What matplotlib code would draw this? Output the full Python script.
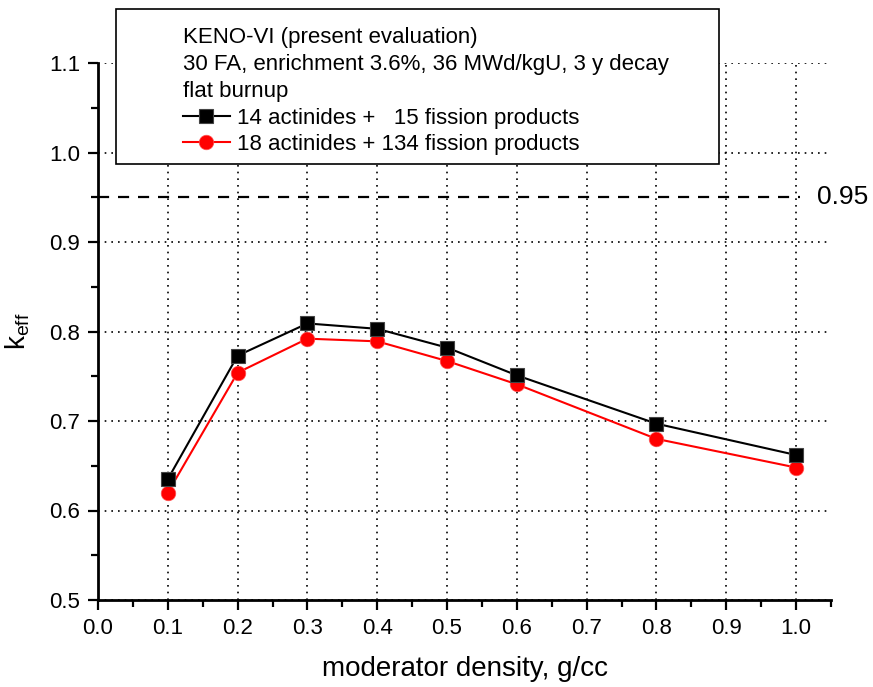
import matplotlib
matplotlib.use("Agg")
import matplotlib.pyplot as plt
from matplotlib.patches import Rectangle
from matplotlib.ticker import MultipleLocator

plt.rcParams['font.family'] = ['Liberation Sans', 'DejaVu Sans']
plt.rcParams['mathtext.fontset'] = 'custom'
plt.rcParams['mathtext.rm'] = 'Liberation Sans'
plt.rcParams['mathtext.it'] = 'Liberation Sans'

density = [0.1, 0.2, 0.3, 0.4, 0.5, 0.6, 0.8, 1.0]
keff_15fp = [0.635, 0.773, 0.809, 0.803, 0.782, 0.751, 0.697, 0.662]
keff_134fp = [0.620, 0.754, 0.792, 0.789, 0.767, 0.741, 0.680, 0.648]
limit = 0.95

fig = plt.figure(figsize=(8.73, 6.87), dpi=100)
ax = fig.add_axes([98/873, 1 - 600/687, 733/873, 537/687])

ax.plot(density, keff_15fp, color='black', lw=1.5, marker='s', ms=9.5,
        mec='#444444', mew=0.8, label='14 actinides +   15 fission products', zorder=4)
ax.plot(density, keff_134fp, color='red', lw=1.5, marker='o', ms=10.5,
        mec='#ff5555', mew=0.5, label='18 actinides + 134 fission products', zorder=3)
ax.hlines(limit, 0, 1.005, color='black', lw=1.6, ls=(0, (5, 4)), zorder=2)
ax.text(1.03, limit, f'{limit:.2f}', fontsize=19, va='center', ha='left', clip_on=False)

ax.set_xlim(0, 1.05)
ax.set_ylim(0.5, 1.1)
ax.xaxis.set_major_locator(MultipleLocator(0.1))
ax.xaxis.set_minor_locator(MultipleLocator(0.05))
ax.yaxis.set_major_locator(MultipleLocator(0.1))
ax.yaxis.set_minor_locator(MultipleLocator(0.05))
ax.xaxis.set_major_formatter(plt.FormatStrFormatter('%.1f'))
ax.yaxis.set_major_formatter(plt.FormatStrFormatter('%.1f'))

for s in ['top', 'right']:
    ax.spines[s].set_visible(False)
for s in ['left', 'bottom']:
    ax.spines[s].set_linewidth(2)

ax.tick_params(which='major', direction='out', length=7, width=1.6, labelsize=16, pad=6)
ax.tick_params(which='minor', direction='out', length=5, width=1.6)

ax.grid(True, which='major', color='black', ls=(0, (1, 3)), lw=1.2)
ax.get_ygridlines()[-1].set_visible(False)
ax.get_xgridlines()[0].set_visible(False)
ax.get_ygridlines()[0].set_visible(False)

ax.set_xlabel('moderator density, g/cc', fontsize=20, labelpad=12)
ax.set_ylabel(r'k$_{\mathrm{eff}}$', fontsize=20, labelpad=12)

# legend box
fig.patches.append(Rectangle((116/873, 1 - 164/687), 603/873, 155/687,
                             transform=fig.transFigure, fill=True, fc='white',
                             ec='black', lw=1.2, zorder=5))
leg = fig.legend(loc='upper left', bbox_to_anchor=(183/873, 1 - 27/687),
                 title='KENO-VI (present evaluation)\n30 FA, enrichment 3.6%, 36 MWd/kgU, 3 y decay\nflat burnup',
                 alignment='left', frameon=False, fontsize=16, title_fontsize=16,
                 handlelength=2.1, handletextpad=0.35, labelspacing=0.25,
                 borderpad=0, borderaxespad=0)
leg.set_zorder(6)
leg.get_title().set_linespacing(1.38)

fig.savefig('out.png', dpi=100)
